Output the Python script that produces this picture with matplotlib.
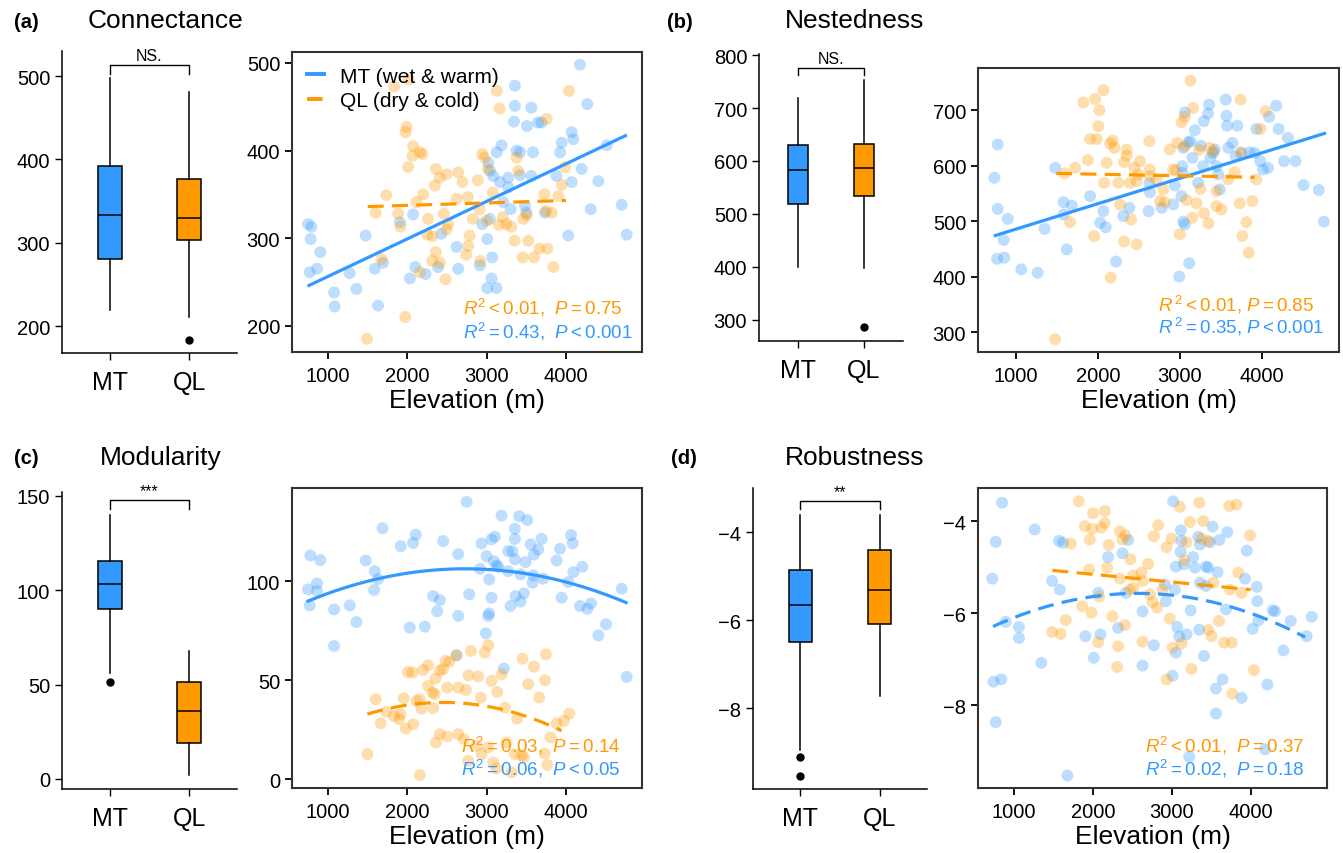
import numpy as np
import matplotlib.pyplot as plt
from matplotlib.lines import Line2D

plt.rcParams['font.family'] = ['Liberation Sans', 'DejaVu Sans']
plt.rcParams['mathtext.fontset'] = 'custom'
plt.rcParams['mathtext.rm'] = 'Liberation Sans'
plt.rcParams['mathtext.it'] = 'Liberation Sans:italic'

BLUE = '#3399ff'
ORANGE = '#ff9900'
groups = ['MT', 'QL']

# ---- boxplot summaries: [whislo, q1, med, q3, whishi] and outliers
box_a = {'MT': [220, 281, 333, 392, 498], 'QL': [211, 303, 330, 376, 481]}
fl_a = {'MT': [], 'QL': [184]}
box_b = {'MT': [400, 519, 583, 631, 718], 'QL': [398, 533, 586, 632, 752]}
fl_b = {'MT': [], 'QL': [287]}
box_c = {'MT': [56, 90, 103.5, 115.6, 140], 'QL': [2, 19, 36, 51.5, 68]}
fl_c = {'MT': [51.4], 'QL': []}
box_d = {'MT': [-8.95, -6.5, -5.66, -4.86, -3.61], 'QL': [-7.73, -6.09, -5.32, -4.41, -3.61]}
fl_d = {'MT': [-9.11, -9.55], 'QL': []}

sig_labels = ['NS.', 'NS.', '***', '**']

# ---- scatter data (elevation, value)
a_mt_x = [748, 790, 781, 903, 769, 861, 1076, 1084, 1273, 1358, 1475, 1589, 1694, 1631,
          1905, 2073, 2031, 2101, 2228, 2388, 2430, 2620, 2641, 2915, 2944, 3007, 3007,
          3062, 3124, 3070, 3040, 3083, 3125, 3188, 3167, 3272, 3272, 3209, 3302, 3356,
          3356, 3344, 3377, 3420, 3420, 3483, 3500, 3508, 3563, 3584, 3563, 3647, 3690,
          3735, 3880, 3925, 3945, 4029, 4071, 4092, 4071, 4176, 4197, 4268, 4311, 4408,
          4513, 4702, 4765, 3040, 3020]
a_mt_y = [316, 313, 299, 284, 261, 265, 238, 222, 260, 242, 303, 265, 272, 223,
          318, 327, 254, 267, 259, 267, 305, 290, 265, 269, 316, 299, 243,
          254, 243, 278, 377, 371, 398, 406, 364, 369, 358, 341, 333, 474,
          451, 433, 400, 398, 372, 337, 329, 428, 449, 398, 371, 432, 432,
          329, 371, 398, 409, 303, 421, 413, 364, 498, 379, 453, 333, 365,
          406, 338, 304, 322, 386]
a_ql_x = [1833, 2022, 1989, 1977, 2073, 2064, 2010, 2157, 2191, 1736, 1601, 1673, 1883,
          1913, 2115, 2199, 2262, 2253, 2317, 2359, 2346, 2409, 2494, 2460, 2515, 2494,
          2359, 2313, 2409, 2157, 2481, 1973, 1492, 2641, 2696, 2620, 2763, 2784, 2767,
          2742, 2826, 2889, 2944, 2973, 2910, 2919, 3015, 3002, 3078, 3129, 3163, 3154,
          3205, 3247, 3310, 3352, 3377, 3398, 3462, 3504, 3454, 3525, 3597, 3664, 3764,
          3756, 3727, 3748, 3820, 3841, 3904, 3946, 3987, 4038]
a_ql_y = [473, 481, 427, 421, 405, 394, 381, 398, 396, 349, 329, 276, 328,
          313, 341, 350, 322, 304, 302, 379, 360, 369, 373, 328, 316, 310,
          284, 274, 272, 261, 253, 210, 185, 375, 364, 345, 347, 303, 291,
          281, 322, 366, 396, 392, 333, 274, 379, 320, 352, 468, 448, 315,
          324, 316, 313, 297, 392, 377, 322, 326, 278, 297, 278, 288, 288,
          436, 350, 331, 329, 267, 348, 361, 381, 468]

b_mt_x = [737, 777, 777, 899, 850, 769, 858, 1065, 1264, 1349, 1478, 1580, 1580, 1681,
          1620, 1904, 2026, 2066, 2095, 2220, 2309, 2382, 2618, 2634, 2626, 2776, 2918,
          2938, 2990, 3039, 3059, 3019, 3031, 3027, 3039, 3059, 3112, 3100, 3128, 3152,
          3181, 3221, 3253, 3282, 3290, 3343, 3355, 3371, 3404, 3424, 3445, 3485, 3465,
          3558, 3566, 3574, 3590, 3639, 3700, 3753, 3680, 3850, 3911, 3931, 4012, 4073,
          4086, 4174, 4203, 4316, 4268, 4409, 4507, 4693, 4754, 3979]
b_mt_y = [578, 638, 522, 504, 466, 432, 434, 413, 407, 486, 596, 534, 512, 528,
          449, 545, 497, 518, 489, 427, 509, 524, 518, 552, 568, 524, 530,
          564, 400, 499, 494, 545, 587, 599, 632, 696, 424, 642, 644, 614,
          664, 569, 636, 599, 680, 694, 710, 614, 623, 629, 599, 557, 584,
          719, 690, 672, 632, 641, 672, 623, 617, 624, 623, 666, 593, 596,
          688, 708, 666, 650, 608, 608, 565, 556, 499, 608]
b_ql_x = [1823, 1965, 2018, 2066, 2005, 1904, 1985, 1876, 1722, 1592, 1661, 1953, 2107,
          2075, 2147, 2180, 2200, 2350, 2350, 2318, 2443, 2512, 2492, 2472, 2390, 2249,
          2269, 2403, 2318, 2472, 2155, 1478, 2626, 2634, 2634, 2715, 2796, 2756, 2816,
          2876, 2917, 2949, 2966, 3019, 3059, 3160, 3128, 3059, 3079, 2998, 3201, 3152,
          3249, 3294, 3347, 3233, 3363, 3404, 3445, 3445, 3506, 3586, 3668, 3737, 3740,
          3729, 3761, 3810, 3838, 3883, 3931, 3980, 4045]
b_ql_y = [714, 720, 700, 736, 671, 648, 648, 610, 596, 586, 498, 473, 605,
          569, 640, 645, 632, 629, 618, 606, 596, 608, 584, 572, 569, 569,
          530, 503, 463, 458, 398, 287, 644, 593, 581, 575, 557, 536, 534,
          629, 593, 591, 641, 678, 688, 704, 753, 635, 538, 476, 532, 506,
          558, 514, 496, 629, 632, 626, 554, 527, 521, 575, 588, 624, 719,
          532, 473, 498, 443, 536, 575, 666, 698]

c_mt_x = [748, 777, 769, 861, 861, 903, 1076, 1076, 1273, 1358, 1475, 1589, 1581, 1631,
          1686, 1917, 2073, 2106, 2031, 2220, 2325, 2409, 2376, 2451, 2641, 2641, 2746,
          2780, 2915, 2935, 2998, 3032, 3019, 3032, 2990, 3061, 3061, 3104, 3091, 3124,
          3145, 3187, 3217, 3272, 3272, 3326, 3301, 3356, 3356, 3356, 3364, 3410, 3427,
          3427, 3469, 3490, 3511, 3553, 3578, 3587, 3595, 3650, 3692, 3713, 3882, 3924,
          3945, 4029, 4063, 4084, 4092, 4206, 4176, 4269, 4315, 4408, 4504, 4702, 4765,
          2620]
c_mt_y = [95.8, 112.9, 87.7, 98.8, 95.0, 110.6, 85.7, 67.2, 87.7, 79.3, 110.4, 105, 95.5,
          101, 126.7, 117.6, 119.3, 123.4, 76.5, 77, 92.4, 90.4, 84.7, 120.2, 113.6, 82.4,
          140, 93.3, 106.2, 119, 112.6, 100.8, 82.4, 83.7, 73.6, 91.6, 121, 122.4, 110,
          107.9, 107.2, 133.1, 55.8, 105, 115.1, 115.1, 87.4, 126.4, 121.3, 110.9, 92.4,
          132.8, 103.4, 89.6, 93.8, 109.6, 130.8, 118.5, 99.2, 102.9, 113.4, 116, 121.3,
          101.2, 110.4, 116.3, 91.6, 99.5, 123.2, 119, 104.5, 107.2, 87.4, 86, 88.7, 72.6,
          78.2, 96.1, 51.6, 62.5]
c_ql_x = [1496, 1602, 1665, 1736, 1829, 1896, 1913, 1955, 1980, 2010, 2064, 2073, 2115,
          2157, 2178, 2157, 2199, 2262, 2262, 2317, 2346, 2325, 2355, 2409, 2451, 2481,
          2527, 2502, 2641, 2738, 2409, 2502, 2359, 2641, 2712, 2771, 2801, 2893, 2927,
          2977, 3019, 3061, 3133, 3187, 3230, 2872, 2935, 3019, 3082, 3124, 3251, 3314,
          3356, 3385, 3440, 3452, 3524, 3595, 3662, 3734, 3747, 3734, 3764, 3806, 3882,
          3974, 4042, 2767, 3469, 2620]
c_ql_y = [12.6, 40.3, 28.2, 34, 31.9, 30.3, 32.8, 40.8, 25.5, 54.1, 53.8, 27.7, 39.5,
          40.3, 35.6, 2, 55.1, 57.5, 47.1, 43.7, 42.9, 35.8, 50.8, 54.8, 55.5, 59.7,
          59.2, 46.2, 46.2, 45, 22.7, 21.5, 18.5, 22.7, 20.2, 52.4, 64.7, 51.8, 41.2,
          63.9, 67.6, 49.6, 44, 52.9, 36.1, 16.8, 12.6, 16, 8.4, 5.4, 18.5, 3.4,
          12.6, 30.6, 12.1, 60.8, 47.9, 56.8, 41.2, 12.9, 63, 49.9, 7.1, 21, 28.1,
          29.4, 33.1, 9.2, 10.9, 62.5]

d_mt_x = [725, 768, 742, 839, 768, 848, 894, 1063, 1063, 1262, 1346, 1482, 1579, 1570,
          1621, 1676, 1904, 2010, 2065, 2094, 2191, 2318, 2373, 2445, 2416, 2627, 2627,
          2770, 2910, 2922, 3015, 3007, 3036, 3049, 3049, 3066, 3091, 3112, 3108, 3120,
          3154, 3184, 3218, 3235, 3268, 3290, 3332, 3345, 3353, 3353, 3404, 3430, 3430,
          3480, 3459, 3514, 3556, 3556, 3577, 3598, 3641, 3683, 3700, 3881, 3924, 3945,
          4021, 4072, 4080, 4093, 4177, 4207, 4274, 4304, 4410, 4503, 4705, 4769]
d_mt_y = [-5.25, -4.45, -7.49, -7.44, -8.37, -3.60, -6.19, -6.30, -6.54, -4.18, -7.08,
          -5.30, -5.49, -4.43, -4.47, -9.53, -6.50, -6.97, -5.56, -6.46, -4.78, -6.32,
          -4.70, -4.41, -5.56, -5.96, -7.14, -6.70, -5.38, -5.74, -3.57, -7.36, -5.49,
          -4.99, -6.86, -6.30, -6.51, -4.20, -4.67, -4.43, -4.94, -6.46, -9.12, -5.94,
          -4.78, -5.01, -4.34, -6.36, -4.51, -5.34, -6.93, -4.99, -5.41, -4.46, -5.01,
          -4.12, -8.18, -7.64, -5.11, -4.41, -7.44, -5.92, -4.24, -7.84, -5.25, -4.64,
          -6.34, -5.43, -5.74, -6.16, -8.96, -7.55, -5.94, -5.96, -6.81, -6.17, -6.50,
          -6.08]
d_ql_x = [1820, 1896, 1959, 2001, 1993, 2107, 2149, 2149, 2200, 2179, 1718, 1482, 1592,
          1655, 1862, 1951, 1980, 2065, 2077, 2246, 2318, 2305, 2339, 2339, 2373, 2411,
          2403, 2475, 2466, 2508, 2508, 2614, 2627, 2699, 2627, 2720, 2753, 2770, 2812,
          2825, 2880, 2931, 2931, 2973, 2994, 3007, 3100, 3121, 3154, 3184, 3226, 3247,
          3345, 3374, 3395, 3459, 3522, 3459, 3501, 3594, 3657, 3755, 3725, 3818, 3734,
          3763, 3839, 3881, 3987, 4038]
d_ql_y = [-3.57, -4.11, -4.40, -3.83, -4.17, -4.14, -3.78, -4.04, -4.52, -5.01, -4.49,
          -6.41, -6.45, -6.15, -5.85, -5.05, -5.99, -6.63, -5.64, -6.07, -6.72, -7.17,
          -5.25, -4.22, -4.40, -4.31, -6.26, -4.83, -5.49, -5.45, -5.18, -5.12, -5.30,
          -4.93, -6.62, -5.59, -5.76, -4.33, -5.88, -4.09, -5.49, -4.57, -7.44, -6.12,
          -4.38, -6.75, -3.69, -6.66, -4.85, -4.46, -4.02, -7.21, -3.60, -4.38, -4.00,
          -4.43, -5.34, -6.36, -6.50, -6.17, -6.64, -6.64, -3.67, -3.64, -5.49, -7.75,
          -5.12, -5.56, -4.31, -7.24]

# ---- fitted curves: x-range and polynomial coefficients
fit_a = {'MT': ([760, 4750], [0.04286, 213.4]), 'QL': ([1500, 4000], [0.0028, 331.8])}
fit_b = {'MT': ([749, 4762], [0.04585, 439.7]), 'QL': ([1490, 3910], [-0.00289, 590.3])}
fit_c = {'MT': ([748, 4757], [-4.15e-6, 0.022659, 75.27]),
         'QL': ([1496, 3945], [-6.43e-6, 0.03156, -0.02])}
fit_d = {'MT': ([734, 4684], [-2.13e-7, 1.0957e-3, -6.979]),
         'QL': ([1486, 3995], [-1.674e-4, -4.821])}

stats_txt = {
    'a': (r'$R^2 < 0.01$,  $P = 0.75$', r'$R^2 = 0.43$,  $P < 0.001$'),
    'b': (r'$R^{\,2} < 0.01$, $P = 0.85$', r'$R^{\,2} = 0.35$, $P < 0.001$'),
    'c': (r'$R^2 = 0.03$,  $P = 0.14$', r'$R^2 = 0.06$,  $P < 0.05$'),
    'd': (r'$R^2 < 0.01$,  $P = 0.37$', r'$R^2 = 0.02$,  $P = 0.18$'),
}

W, H = 1343, 854
fig = plt.figure(figsize=(W / 100, H / 100), dpi=100)


def px_axes(x0, y0, x1, y1):
    return fig.add_axes([x0 / W, 1 - y1 / H, (x1 - x0) / W, (y1 - y0) / H])


def draw_box(ax, box, fl, ylim, yticks, sig, sig_y):
    stats = []
    for g in groups:
        lo, q1, med, q3, hi = box[g]
        stats.append(dict(whislo=lo, q1=q1, med=med, q3=q3, whishi=hi, fliers=fl[g]))
    bp = ax.bxp(stats, positions=[0, 1], widths=0.3, patch_artist=True, showcaps=False,
                boxprops=dict(edgecolor='black', linewidth=1.1),
                medianprops=dict(color='black', linewidth=1.1),
                whiskerprops=dict(color='black', linewidth=1.1),
                flierprops=dict(marker='o', markerfacecolor='black',
                                markeredgecolor='black', markersize=5))
    for patch, c in zip(bp['boxes'], [BLUE, ORANGE]):
        patch.set_facecolor(c)
    ax.set_xlim(-0.6, 1.6)
    ax.set_ylim(*ylim)
    ax.set_yticks(yticks)
    ax.set_xticks([0, 1])
    ax.set_xticklabels(groups, fontsize=18)
    ax.tick_params(axis='y', labelsize=14.5, length=5, width=1)
    ax.tick_params(axis='x', length=5, width=1, pad=7)
    for s in ['top', 'right']:
        ax.spines[s].set_visible(False)
    for s in ['left', 'bottom']:
        ax.spines[s].set_linewidth(1.1)
    top, bot = sig_y
    ax.plot([0, 0, 1, 1], [bot, top, top, bot], color='black', lw=1, clip_on=False)
    ax.annotate(sig, xy=(0.5, top), xytext=(0, 1.5), textcoords='offset points',
                ha='center', va='bottom', fontsize=11.5, annotation_clip=False)


def draw_scatter(ax, xs, ys, fits, styles, xlim, ylim, yticks, txt, tx, ty):
    for x, y, c in zip(xs, ys, [BLUE, ORANGE]):
        ax.scatter(x, y, s=74, color=c, alpha=0.32, edgecolors='none', zorder=2)
    for g, c in zip(groups, [BLUE, ORANGE]):
        rng, coef = fits[g]
        xx = np.linspace(rng[0], rng[1], 200)
        line, = ax.plot(xx, np.polyval(coef, xx), color=c, lw=2.3, zorder=3)
        if styles[g] == 'dashed':
            line.set_dashes((5, 2.6))
    ax.set_xlim(*xlim)
    ax.set_ylim(*ylim)
    ax.set_xticks([1000, 2000, 3000, 4000])
    ax.set_yticks(yticks)
    ax.tick_params(labelsize=14.5, length=5, width=1.3)
    ax.tick_params(axis='x', pad=5)
    for s in ax.spines.values():
        s.set_color('#333333')
        s.set_linewidth(1.5)
    ax.set_xlabel('Elevation (m)', fontsize=19, labelpad=2)
    ax.text(tx, ty[0], txt[0], color=ORANGE, fontsize=13.5, transform=ax.transAxes,
            ha='left', va='center', zorder=4)
    ax.text(tx, ty[1], txt[1], color=BLUE, fontsize=13.5, transform=ax.transAxes,
            ha='left', va='center', zorder=4)


solid = {'MT': 'solid', 'QL': 'dashed'}
dashed = {'MT': 'dashed', 'QL': 'dashed'}

# (a)
ax = px_axes(62, 52, 237, 354)
draw_box(ax, box_a, fl_a, (168, 530), [200, 300, 400, 500], sig_labels[0], (513, 502))
ax = px_axes(292, 53, 642, 353)
draw_scatter(ax, [a_mt_x, a_ql_x], [a_mt_y, a_ql_y], fit_a, solid, (546, 4958),
             (170, 512.5), [200, 300, 400, 500], stats_txt['a'], 0.489, (0.15, 0.07))
handles = [Line2D([], [], color=BLUE, lw=2.8),
           Line2D([], [], color=ORANGE, lw=2.8, dashes=(4, 2))]
ax.legend(handles, ['MT (wet & warm)', 'QL (dry & cold)'], loc='upper left',
          frameon=False, fontsize=15, handlelength=0.85, handletextpad=0.75,
          labelspacing=0.25, borderaxespad=0.3, bbox_to_anchor=(0.0, 1.0))

# (b)
ax = px_axes(759, 55, 903, 342)
draw_box(ax, box_b, fl_b, (260, 802), [300, 400, 500, 600, 700, 800], sig_labels[1],
         (775, 762))
ax = px_axes(978, 69, 1339, 353)
draw_scatter(ax, [b_mt_x, b_ql_x], [b_mt_y, b_ql_y], fit_b, solid, (537, 4939),
             (264, 776), [300, 400, 500, 600, 700], stats_txt['b'], 0.499, (0.169, 0.092))

# (c)
ax = px_axes(62, 493, 237, 790)
draw_box(ax, box_c, fl_c, (-5.3, 152), [0, 50, 100, 150], sig_labels[2], (147.5, 143))
ax = px_axes(292, 489, 642, 789)
draw_scatter(ax, [c_mt_x, c_ql_x], [c_mt_y, c_ql_y], fit_c, solid, (546, 4958),
             (-4.5, 147), [0, 50, 100], stats_txt['c'], 0.483, (0.143, 0.067))

# (d)
ax = px_axes(753, 489, 927, 790)
draw_box(ax, box_d, fl_d, (-9.84, -3.0), [-8, -6, -4], sig_labels[3], (-3.3, -3.48))
ax = px_axes(978, 489, 1327, 789)
draw_scatter(ax, [d_mt_x, d_ql_x], [d_mt_y, d_ql_y], fit_d, dashed, (544, 4962),
             (-9.8, -3.28), [-8, -6, -4], stats_txt['d'], 0.479, (0.143, 0.067))

# panel labels and titles
for lab, x, y in [('(a)', 14, 22), ('(b)', 667, 22), ('(c)', 14, 458), ('(d)', 671, 458)]:
    fig.text(x / W, 1 - y / H, lab, fontsize=14.5, fontweight='bold', va='center')
for t, x, y in [('Connectance', 88, 21), ('Nestedness', 785, 21),
                ('Modularity', 100, 458), ('Robustness', 785, 458)]:
    fig.text(x / W, 1 - y / H, t, fontsize=19, va='center')

fig.savefig('out.png', dpi=100)
